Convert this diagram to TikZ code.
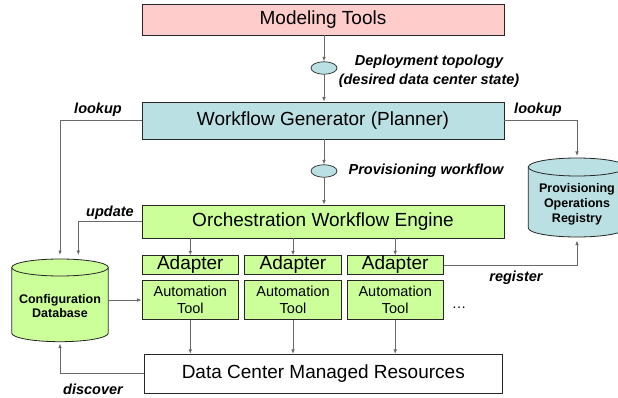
\documentclass[tikz,border=0pt]{standalone}
\usepackage{fontspec}
\setmainfont{Liberation Sans}
\usetikzlibrary{arrows.meta,shapes.geometric}
\definecolor{mtpink}{RGB}{255,204,204}
\definecolor{wgblue}{RGB}{187,224,227}
\definecolor{ogreen}{RGB}{204,255,153}
\definecolor{lngray}{RGB}{105,105,105}
\tikzset{
  box/.style={draw=black!85, line width=0.8pt, inner sep=0pt, font=\fontsize{19}{21}\selectfont},
  smallbox/.style={draw=black!85, line width=0.8pt, inner sep=0pt, align=center, font=\fontsize{14.5}{17.3}\selectfont},
  token/.style={draw=black!85, line width=0.7pt, ellipse, fill=wgblue, minimum width=26pt, minimum height=12.5pt, inner sep=0pt},
  lbl/.style={font=\fontsize{14.5}{19}\selectfont\bfseries\itshape, inner sep=0pt, align=center},
  cyltext/.style={font=\fontsize{12.5}{14.8}\selectfont\bfseries, inner sep=0pt, align=center},
  conn/.style={draw=lngray, line width=0.8pt, -{Latex[length=4.5pt,width=3.6pt]}},
  cyl/.style={draw=black!85, line width=0.8pt}
}
\begin{document}
\begin{tikzpicture}[x=1pt,y=-1pt]
\clip (0,0) rectangle (618,398);
\fill[white] (0,0) rectangle (618,398);

% main boxes
\node[box, fill=mtpink, minimum width=362pt, minimum height=31pt] (MT) at (323,19.5) {Modeling Tools};
\node[box, fill=wgblue, minimum width=362pt, minimum height=37pt] (WG) at (323,120.5) {Workflow Generator (Planner)};
\node[box, fill=ogreen, minimum width=362pt, minimum height=33pt] (OWE) at (323,221.5) {Orchestration Workflow Engine};
\node[box, fill=white, minimum width=358.6pt, minimum height=39pt] (DC) at (323.3,373.8) {Data Center Managed Resources};

% adapters and tools
\foreach \i/\x in {1/190.3,2/293,3/395.2}{
  \node[box, fill=ogreen, minimum width=96.5pt, minimum height=18.6pt] (A\i) at (\x,265) {Adapter};
  \node[smallbox, fill=ogreen, minimum width=96.5pt, minimum height=38.6pt] (T\i) at (\x,300) {Automation\\Tool};
}
\node[font=\fontsize{14.5}{17}\selectfont, inner sep=0pt] (dots) at (459,308) {\ldots};

% tokens
\node[token] (E1) at (324,68) {};
\node[token] (E2) at (324,171) {};

% Configuration Database cylinder
\fill[ogreen] (11.7,267.5) rectangle (108.3,333);
\fill[ogreen] (60,333) ellipse (48.3 and 8.7);
\draw[cyl] (11.7,267.5) -- (11.7,333) arc (180:0:48.3 and 8.7) -- (108.3,267.5);
\draw[cyl, fill=ogreen] (60,267.5) ellipse (48.3 and 8.5);
\node[cyltext] (CDB) at (60,306) {Configuration\\Database};
\coordinate (cdbTopA) at (60,255);
\coordinate (cdbTopB) at (78.3,255);
\coordinate (cdbBot) at (60,343.5);
\coordinate (cdbRight) at (108.3,300);

% Provisioning Operations Registry cylinder
\fill[wgblue] (528.3,167) rectangle (625.7,228);
\fill[wgblue] (577,228) ellipse (48.7 and 9);
\draw[cyl] (528.3,167) -- (528.3,228) arc (180:0:48.7 and 9) -- (625.7,167);
\draw[cyl, fill=wgblue] (577,167) ellipse (48.7 and 9);
\node[cyltext] (POR) at (577,204) {Provisioning\\Operations\\Registry};
\coordinate (porTop) at (577,156);
\coordinate (porBot) at (577,240.5);

% connectors
\draw[conn] (MT.south -| E1) -- (E1.north);
\draw[conn] (E1.south) -- (E1.south |- WG.north);
\draw[conn] (WG.south -| E2) -- (E2.north);
\draw[conn] (E2.south) -- (E2.south |- OWE.north);
\draw[conn] (WG.west) -| (cdbTopA);
\draw[conn] (WG.east) -| (porTop);
\draw[conn] (OWE.west) -| (cdbTopB);
\foreach \i in {1,2,3}{
  \draw[conn] (OWE.south -| A\i) -- (A\i.north);
  \draw[conn] (T\i.south) -- (T\i.south |- DC.north);
}
\draw[conn] (cdbRight) -- (T1.west);
\draw[conn] (DC.west) -| (cdbBot);
\draw[conn] (A3.east) -| (porBot);

% labels
\node[lbl] (Ldep) at (429,71.5) {Deployment topology\\(desired data center state)};
\node[lbl] (Lprov) at (426,171) {Provisioning workflow};
\node[lbl] (Llook1) at (98,110) {lookup};
\node[lbl] (Llook2) at (538,110) {lookup};
\node[lbl] (Lupd) at (110,212.7) {update};
\node[lbl] (Lreg) at (516,277.3) {register};
\node[lbl] (Ldisc) at (93,389.5) {discover};
\end{tikzpicture}
\end{document}
